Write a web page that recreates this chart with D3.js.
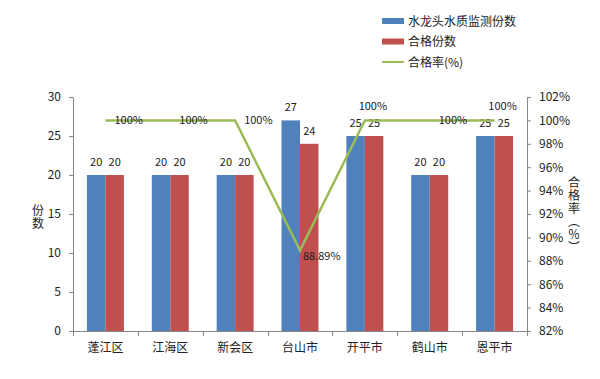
<!DOCTYPE html>
<html><head><meta charset="utf-8">
<script src="https://cdn.jsdelivr.net/npm/d3@7"></script>
<style>body{margin:0;background:#fff}svg{display:block}text{font-family:"Noto Sans CJK SC","Noto Sans",sans-serif;fill:#222}</style>
</head><body><svg id="c" width="600" height="379"></svg>
<script>
const categories = ["蓬江区","江海区","新会区","台山市","开平市","鹤山市","恩平市"];
const monitored = [20,20,20,27,25,20,25];
const qualified = [20,20,20,24,25,20,25];
const passRate = [100,100,100,88.89,100,100,100];
const rateLabels = ["100%","100%","100%","88.89%","100%","100%","100%"];
const rateLabelPos = ["right","right","right","below","above","right","above"];
const leftTicks = [0,5,10,15,20,25,30];
const rightTicks = [82,84,86,88,90,92,94,96,98,100,102];
const seriesNames = ["水龙头水质监测份数","合格份数","合格率(%)"];
const leftTitle = "份数";
const rightTitle = "合格率（％）";

const svg = d3.select("#c");
const L=73,R=527,T=97,B=331;
const x = d3.scaleBand().domain(categories).range([L,R]).paddingInner(0.43).paddingOuter(0.215);
const xs = d3.scaleBand().domain([0,1]).range([0,x.bandwidth()]);
const y = d3.scaleLinear().domain([0,30]).range([B,T]);
const y2 = d3.scaleLinear().domain([82,102]).range([B,T]);
const gray="#868686";

// axes
const ga = svg.append("g").attr("transform",`translate(${L},0)`).call(d3.axisLeft(y).tickValues(leftTicks).tickSize(4).tickPadding(8));
const gb = svg.append("g").attr("transform",`translate(${R},0)`).call(d3.axisRight(y2).tickValues(rightTicks).tickSize(4).tickPadding(8).tickFormat(d=>d+"%"));
[ga,gb].forEach(g=>{g.select(".domain").attr("stroke",gray);g.selectAll(".tick line").attr("stroke",gray);g.selectAll("text").attr("font-size",12).attr("fill","#333").attr("font-family","'Open Sans','Noto Sans',sans-serif");});
// x axis
svg.append("line").attr("x1",L).attr("x2",R).attr("y1",B+0.5).attr("y2",B+0.5).attr("stroke",gray);
const step = x.step();
d3.range(categories.length+1).forEach(i=>{
  const xx = L + i*step;
  svg.append("line").attr("x1",Math.round(xx)+0.5).attr("x2",Math.round(xx)+0.5).attr("y1",B).attr("y2",B+5).attr("stroke",gray);
});
svg.append("g").selectAll("text").data(categories).join("text")
  .attr("x",d=>x(d)+x.bandwidth()/2).attr("y",B+21).attr("text-anchor","middle").attr("font-size",12).text(d=>d);

// bars
const g = svg.append("g");
g.selectAll(".b1").data(monitored).join("rect").attr("fill","#4F81BD")
  .attr("x",(d,i)=>x(categories[i])+xs(0)).attr("width",xs.bandwidth()).attr("y",d=>y(d)).attr("height",d=>B-y(d));
g.selectAll(".b2").data(qualified).join("rect").attr("fill","#C0504D")
  .attr("x",(d,i)=>x(categories[i])+xs(1)).attr("width",xs.bandwidth()).attr("y",d=>y(d)).attr("height",d=>B-y(d));
const lblFont="'Open Sans','Noto Sans',sans-serif";
g.selectAll(".l1").data(monitored).join("text").attr("font-size",11).attr("font-family",lblFont).attr("text-anchor","middle")
  .attr("x",(d,i)=>x(categories[i])+xs(0)+xs.bandwidth()/2).attr("y",d=>y(d)-9).text(d=>d);
g.selectAll(".l2").data(qualified).join("text").attr("font-size",11).attr("font-family",lblFont).attr("text-anchor","middle")
  .attr("x",(d,i)=>x(categories[i])+xs(1)+xs.bandwidth()/2).attr("y",d=>y(d)-9).text(d=>d);

// line
const cx = d=>x(d)+x.bandwidth()/2;
svg.append("path").datum(passRate).attr("fill","none").attr("stroke","#9BBB59").attr("stroke-width",2.5)
  .attr("d",d3.line().x((d,i)=>cx(categories[i])).y(d=>y2(d)));
const off = {right:[9,4,"start"], above:[8,-10,"middle"], below:[3,10,"start"]};
svg.append("g").selectAll("text").data(rateLabels).join("text").attr("font-size",11).attr("font-family",lblFont)
  .attr("x",(d,i)=>cx(categories[i])+off[rateLabelPos[i]][0])
  .attr("y",(d,i)=>y2(passRate[i])+off[rateLabelPos[i]][1])
  .attr("text-anchor",(d,i)=>off[rateLabelPos[i]][2])
  .text(d=>d);

// axis titles (vertical writing mode)
svg.append("text").attr("x",38).attr("y",204).attr("font-size",12)
  .style("writing-mode","vertical-rl").style("letter-spacing","1px").text(leftTitle);
svg.append("text").attr("x",574).attr("y",176).attr("font-size",12).attr("fill","#333")
  .style("writing-mode","vertical-rl").style("letter-spacing","1px").text(rightTitle);

// legend
const lg = svg.append("g");
seriesNames.forEach((n,i)=>{
  const yy = 21 + i*20.5;
  if(i<2) lg.append("rect").attr("x",382).attr("y",yy-3).attr("width",22).attr("height",6).attr("fill",i===0?"#4F81BD":"#C0504D");
  else lg.append("line").attr("x1",382).attr("x2",404).attr("y1",yy).attr("y2",yy).attr("stroke","#9BBB59").attr("stroke-width",2);
  lg.append("text").attr("x",408).attr("y",yy+4.5).attr("font-size",12).text(n);
});
</script></body></html>
